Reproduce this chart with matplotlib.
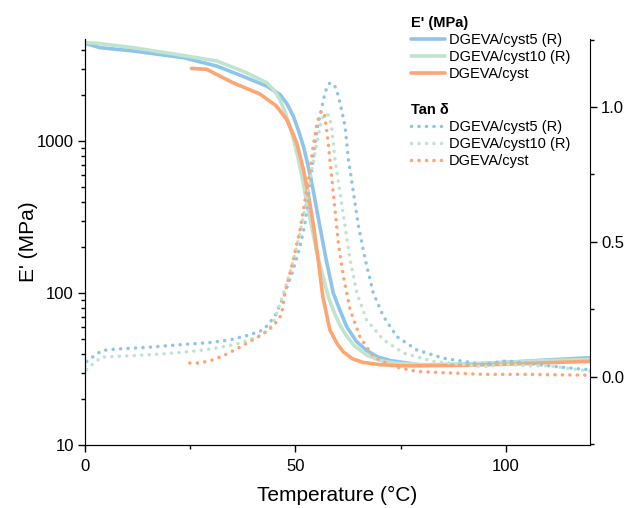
import numpy as np
import matplotlib
matplotlib.use('Agg')
from matplotlib import pyplot as plt
from matplotlib.ticker import MultipleLocator, LogLocator, NullFormatter, FixedLocator

plt.rcParams['font.family'] = ['Liberation Sans', 'DejaVu Sans']

# storage modulus E' (MPa)
t_e_cyst5 = [0, 3.6, 11.5, 23.4, 31.3, 38.4, 43.2, 46.3, 48.0, 49.5, 50.7, 51.9, 53.0, 54.2, 55.8, 57.3, 59.0,
             60.5, 62.2, 64.5, 66.9, 69.5, 72.5, 80, 90, 100, 110, 120]
e_cyst5 = [4400, 4120, 3920, 3540, 3120, 2610, 2300, 2030, 1760, 1460, 1180, 925, 690, 480, 275, 166, 100,
           78, 60, 48, 42, 38, 36, 33.5, 34, 35, 36.3, 37.5]

t_e_cyst10 = [0, 3.0, 11.5, 23.4, 31.3, 38.4, 43.2, 45.0, 46.3, 47.5, 48.7, 49.7, 50.7, 51.7, 52.7, 53.9, 55.1, 56.5,
              57.8, 59.0, 60.5, 62.0, 64.0, 67.0, 70.0, 74.0, 80, 90, 100, 110, 120]
e_cyst10 = [4450, 4400, 4120, 3660, 3370, 2820, 2420, 2150, 1880, 1560, 1250, 990, 757, 560, 392, 270, 184, 130,
            95, 77, 62, 53, 45, 39, 36, 34.5, 33.8, 34, 35, 36, 36.5]

t_e_cyst = [25.3, 28.9, 35.2, 41.6, 45.5, 47.9, 49.1, 50.3, 51.1, 51.9, 52.7, 53.5, 54.4, 55.3, 56.5, 58.2, 60.0,
            61.4, 63.5, 66.0, 70.0, 75.0, 80, 90, 100, 110, 120]
e_cyst = [3010, 2970, 2420, 2040, 1700, 1390, 1170, 975, 800, 650, 500, 380, 265, 175, 95, 57, 46,
          41, 37, 35, 33.8, 33.2, 33.2, 33.5, 34, 34.8, 35.5]

# tan delta
t_d_cyst5 = [0.4, 1.6, 2.9, 4.3, 7.5, 14.6, 22.6, 29.7, 34.5, 39.2, 42.4, 45.1, 47.5, 49.5, 51.1, 52.3, 53.0, 53.8, 54.6, 55.3,
             56.5, 57.0, 57.6, 58.2, 58.8, 59.4, 60.0, 60.6, 61.8, 62.6, 63.8, 65.0, 66.6, 68.5, 70.9, 74.1, 78.8, 85.1, 94.6,
             100, 105, 110, 115, 120]
d_cyst5 = [0.056, 0.07, 0.085, 0.097, 0.102, 0.108, 0.118, 0.126, 0.136, 0.155, 0.173, 0.223, 0.31, 0.396, 0.483, 0.569, 0.656, 0.755, 0.854, 0.928,
           1.015, 1.05, 1.078, 1.089, 1.087, 1.076, 1.05, 1.015, 0.928, 0.804, 0.681, 0.557, 0.433, 0.31, 0.223, 0.148, 0.099, 0.068, 0.045,
           0.058, 0.05, 0.04, 0.032, 0.025]

t_d_cyst10 = [0.4, 1.6, 3.9, 10.7, 18.6, 26.5, 32.1, 36.8, 40.8, 43.2, 44.7, 46.7, 49.1, 51.1, 52.7, 53.9, 55.1, 56.2, 56.8, 57.5,
              58.0, 58.6, 59.4, 60.6, 61.8, 63.0, 64.6, 66.9, 70.9, 75.7, 82.8, 94.6, 100, 105, 110, 115, 120]
d_cyst10 = [0.025, 0.043, 0.072, 0.077, 0.084, 0.095, 0.108, 0.124, 0.146, 0.167, 0.198, 0.285, 0.408, 0.532, 0.656, 0.767, 0.866, 0.953, 0.968, 0.975,
            0.965, 0.928, 0.804, 0.681, 0.557, 0.433, 0.31, 0.21, 0.136, 0.087, 0.056, 0.037, 0.045, 0.04, 0.04, 0.03, 0.02]

t_d_cyst = [24.9, 26.9, 29.7, 32.9, 36.0, 39.2, 42.0, 44.7, 46.7, 47.5, 49.5, 51.1, 52.3, 53.5, 54.2, 55.0, 55.6, 56.2, 56.7,
            57.0, 57.8, 58.6, 59.4, 60.2, 61.4, 63.0, 65.3, 68.5, 73.3, 78.8, 86.7, 94.6, 105, 120]
d_cyst = [0.05, 0.05, 0.058, 0.077, 0.102, 0.13, 0.155, 0.186, 0.229, 0.31, 0.433, 0.545, 0.656, 0.767, 0.854, 0.928, 0.965, 0.985, 0.98,
          0.965, 0.866, 0.742, 0.619, 0.495, 0.371, 0.248, 0.148, 0.074, 0.037, 0.019, 0.013, 0.008, 0.008, 0.005]

labels = ['DGEVA/cyst5 (R)', 'DGEVA/cyst10 (R)', 'DGEVA/cyst']
colors = ['#8fc5ea', '#bfe4cf', '#ffa574']

fig = plt.figure(figsize=(6.3, 5.08), dpi=100)
ax = fig.add_axes([85/630, 1-445/508, 505/630, 406/508])
ax2 = ax.twinx()

h_e = []
for t, e, c, l in zip([t_e_cyst5, t_e_cyst10, t_e_cyst], [e_cyst5, e_cyst10, e_cyst], colors, labels):
    h, = ax.plot(t, e, '-', color=c, lw=2.6, label=l, solid_capstyle='round', solid_joinstyle='round')
    h_e.append(h)

h_d = []
for t, d, c, l in zip([t_d_cyst5, t_d_cyst10, t_d_cyst], [d_cyst5, d_cyst10, d_cyst], colors, labels):
    h, = ax2.plot(t, d, color=c, lw=2.5, linestyle=(0, (0.05, 2.1)), dash_capstyle='round', label=l)
    h_d.append(h)

ax.set_yscale('log')
ax.set_xlim(0, 120)
ax.set_ylim(10, 4700)
ax2.set_ylim(-0.254, 1.252)

ax.xaxis.set_major_locator(FixedLocator([0, 50, 100]))
ax.xaxis.set_minor_locator(FixedLocator([25, 75]))
ax.yaxis.set_major_locator(FixedLocator([10, 100, 1000]))
ax.yaxis.set_minor_locator(LogLocator(base=10, subs=np.arange(2, 10)))
ax.yaxis.set_minor_formatter(NullFormatter())
ax.set_yticklabels(['10', '100', '1000'])
ax2.yaxis.set_major_locator(FixedLocator([0, 0.5, 1.0]))
ax2.yaxis.set_minor_locator(MultipleLocator(0.25))
ax2.set_yticklabels(['0.0', '0.5', '1.0'])

for a in [ax, ax2]:
    a.spines['top'].set_visible(False)
    a.tick_params(which='major', direction='out', length=5, width=1, labelsize=12, pad=3)
    a.tick_params(which='minor', direction='out', length=3, width=1)
ax.spines['right'].set_visible(False)
ax.tick_params(axis='x', which='major', pad=5)

ax.set_xlabel('Temperature (°C)', fontsize=15, labelpad=9)
ax.set_ylabel("E' (MPa)", fontsize=15, labelpad=-1)

leg_kw = dict(loc='upper left', bbox_transform=fig.transFigure, frameon=False, fontsize=10.5, borderpad=0,
              handlelength=2.3, handletextpad=0.3, labelspacing=0.2, alignment='left',
              title_fontproperties={'weight': 'bold', 'size': 10.5})
leg1 = ax2.legend(handles=h_e, title="E' (MPa)", bbox_to_anchor=(404/630, 1-9/508), **leg_kw)
ax2.add_artist(leg1)
ax2.legend(handles=h_d, title='Tan δ', bbox_to_anchor=(404/630, 1-96/508), **leg_kw)

plt.savefig('out.png', dpi=100)
